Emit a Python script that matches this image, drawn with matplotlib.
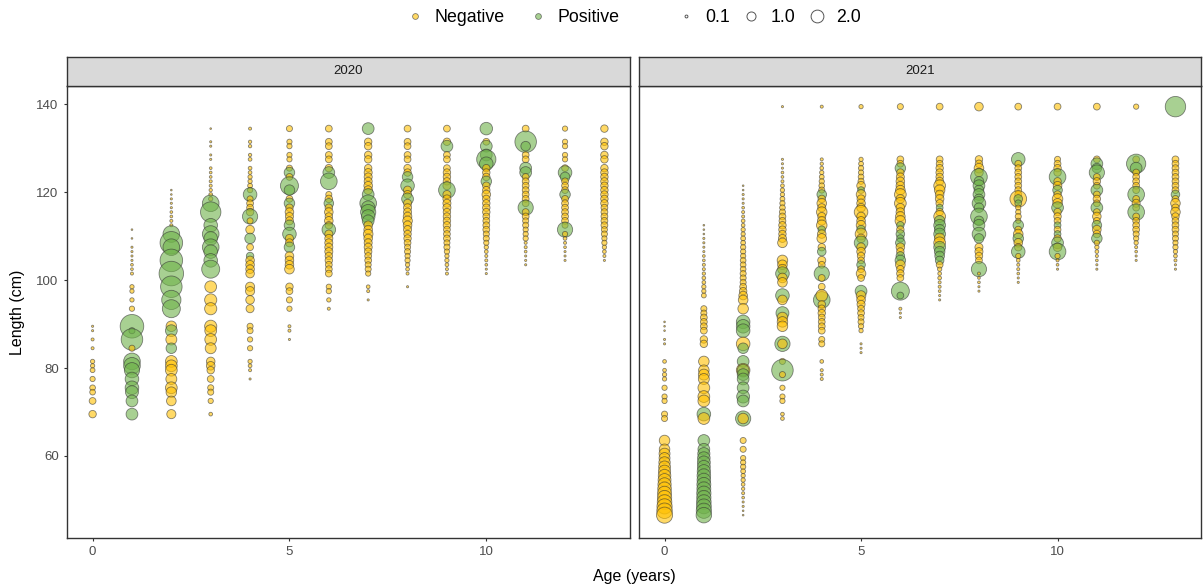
import matplotlib.pyplot as plt
from matplotlib.colors import to_rgba
from matplotlib.lines import Line2D

plt.rcParams['font.family'] = ['Liberation Sans', 'DejaVu Sans']

years = ['2020', '2021']
status_labels = ['Negative', 'Positive']
status_colors = ['#FFC000', '#6FB24A']
size_breaks = [0.1, 1.0, 2.0]
x_ticks = [0, 5, 10]
y_ticks = [60, 80, 100, 120, 140]

# each age (0..13) holds (length cm, relative size, positive 0/1)
fish_2020 = [
    # age 0
    [(89.5, .05, 0), (88.5, .05, 0), (86.5, .1, 0), (84.5, .1, 0), (81.5, .2, 0), (80.5, .2, 0),
     (79.5, .25, 0), (77.5, .3, 0), (75.5, .35, 0), (74.5, .35, 0), (72.5, .5, 0), (69.5, .6, 0)],
    # age 1
    [(111.5, .03, 0), (109.5, .03, 0), (107.5, .05, 0), (106.5, .05, 0), (105.5, .05, 0), (104.5, .05, 0),
     (103.5, .08, 0), (102.5, .08, 0), (101.5, .1, 0), (98.5, .2, 0), (97.5, .2, 0), (95.5, .2, 0),
     (93.5, .3, 0), (89.5, 6, 1), (88.5, .4, 1), (86.5, 5, 1), (84.5, .4, 0), (81.5, 3, 1), (80.5, 3, 1),
     (79.5, 2.5, 1), (77.5, 2, 1), (75.5, 2, 1), (74.5, 1.8, 1), (72.5, 1.5, 1), (69.5, 1.5, 1)],
    # age 2
    [(120.5, .03, 0), (119.5, .03, 0), (118.5, .05, 0), (117.5, .05, 0), (116.5, .05, 0), (115.5, .08, 0),
     (114.5, .08, 0), (113.5, .1, 0), (112.5, .1, 0), (110.5, 3, 1), (108.5, 5.5, 1), (107.5, 3, 1),
     (104.5, 5.5, 1), (101.5, 6.5, 1), (98.5, 5, 1), (95.5, 4, 1), (93.5, 3.5, 1), (89.5, 1.2, 0),
     (88.5, 1.5, 1), (86.5, 1.3, 0), (84.5, 1.2, 1), (81.5, 1.5, 0), (80.5, 1.5, 0), (79.5, 1.5, 0),
     (77.5, 1.3, 0), (75.5, 1.5, 0), (74.5, 1.2, 0), (72.5, 1.0, 0), (69.5, .9, 0)],
    # age 3
    [(134.5, .03, 0), (131.5, .05, 0), (130.5, .05, 0), (128.5, .05, 0), (127.5, .05, 0), (125.5, .08, 0),
     (124.5, .08, 0), (123.5, .08, 0), (122.5, .1, 0), (121.5, .1, 0), (120.5, .12, 0), (119.5, .15, 0),
     (118.5, .2, 0), (117.5, 3, 1), (115.5, 4.5, 1), (112.5, 2, 1), (110.5, 3, 1), (109.5, 2, 1),
     (107.5, 3, 1), (106.5, 2, 1), (104.5, 2, 1), (102.5, 3.5, 1), (98.5, 1.5, 0), (95.5, 1.6, 0),
     (93.5, 1.6, 0), (89.5, 1.6, 0), (88.5, 1.5, 0), (86.5, 1.5, 0), (84.5, 1.3, 0), (81.5, .8, 0),
     (80.5, .8, 0), (79.5, .6, 0), (77.5, .5, 0), (75.5, .4, 0), (74.5, .4, 0), (72.5, .3, 0),
     (69.5, .15, 0)],
    # age 4
    [(134.5, .1, 0), (131.5, .12, 0), (130.5, .12, 0), (128.5, .12, 0), (127.5, .15, 0), (125.5, .15, 0),
     (124.5, .15, 0), (123.5, .2, 0), (122.5, .2, 0), (121.5, .25, 0), (120.5, .3, 0), (119.5, 2, 1),
     (118.5, .4, 0), (117.5, .5, 0), (116.5, .5, 0), (115.5, .6, 0), (114.5, 2.5, 1), (113.5, .4, 0),
     (111.5, .8, 0), (109.5, 1.2, 1), (107.5, .5, 0), (105.5, .6, 1), (104.5, .8, 0), (103.5, .8, 0),
     (102.5, .8, 0), (101.5, .8, 0), (98.5, .9, 0), (97.5, .9, 0), (95.5, .8, 0), (93.5, .7, 0),
     (89.5, .4, 0), (88.5, .4, 0), (86.5, .3, 0), (84.5, .3, 0), (81.5, .2, 0), (80.5, .15, 0),
     (79.5, .1, 0), (77.5, .05, 0)],
    # age 5
    [(134.5, .4, 0), (131.5, .3, 0), (130.5, .3, 0), (128.5, .3, 0), (127.5, .3, 0), (125.5, .4, 0),
     (124.5, 1.2, 1), (123.5, .5, 0), (121.5, 3.5, 1), (120.5, 1.2, 1), (118.5, .5, 0), (117.5, 1.2, 1),
     (116.5, .6, 0), (115.5, .8, 0), (114.5, .7, 0), (113.5, .7, 0), (112.5, 1.2, 1), (110.5, 2, 1),
     (109.5, .7, 0), (108.5, .7, 0), (107.5, 1.2, 1), (105.5, .8, 0), (104.5, .8, 0), (103.5, .8, 0),
     (102.5, 1, 0), (98.5, .6, 0), (97.5, .5, 0), (95.5, .4, 0), (93.5, .3, 0), (89.5, .1, 0),
     (88.5, .1, 0), (86.5, .05, 0)],
    # age 6
    [(134.5, .5, 0), (131.5, .5, 0), (130.5, .5, 0), (128.5, .5, 0), (127.5, .5, 0), (125.5, .6, 0),
     (124.5, 1.5, 1), (122.5, 3, 1), (119.5, .4, 0), (118.5, .6, 0), (117.5, 1, 1), (116.5, .6, 0),
     (115.5, .8, 0), (114.5, .6, 0), (113.5, .8, 0), (112.5, .6, 0), (111.5, 2, 1), (110.5, .7, 0),
     (109.5, .7, 0), (108.5, .7, 0), (107.5, .7, 0), (106.5, .7, 0), (105.5, .6, 0), (104.5, .6, 0),
     (103.5, .5, 0), (102.5, .5, 0), (101.5, .5, 0), (98.5, .3, 0), (97.5, .3, 0), (95.5, .2, 0),
     (93.5, .1, 0)],
    # age 7
    [(134.5, 1.5, 1), (131.5, .6, 0), (130.5, .6, 0), (128.5, .6, 0), (127.5, .6, 0), (125.5, .6, 0),
     (124.5, .7, 0), (123.5, .7, 0), (122.5, .7, 0), (121.5, .8, 0), (120.5, .8, 0), (119.5, 1.5, 1),
     (117.5, 3, 1), (116.5, 2, 1), (115.5, 2.5, 1), (114.5, 2, 1), (113.5, 1.5, 1), (112.5, .8, 0),
     (111.5, .8, 0), (110.5, 1, 0), (109.5, .8, 0), (108.5, .7, 0), (107.5, .7, 0), (106.5, .6, 0),
     (105.5, .5, 0), (104.5, .5, 0), (103.5, .4, 0), (102.5, .4, 0), (101.5, .3, 0), (98.5, .15, 0),
     (97.5, .1, 0), (95.5, .05, 0)],
    # age 8
    [(134.5, .5, 0), (131.5, .5, 0), (130.5, .5, 0), (128.5, .5, 0), (127.5, .5, 0), (125.5, .6, 0),
     (124.5, .6, 0), (123.5, 1.2, 1), (121.5, 2, 1), (120.5, .7, 0), (119.5, .7, 0), (118.5, 1.5, 1),
     (117.5, .7, 0), (116.5, .7, 0), (115.5, .7, 0), (114.5, .8, 0), (113.5, 1, 0), (112.5, .8, 0),
     (111.5, .7, 0), (110.5, .6, 0), (109.5, .6, 0), (108.5, .5, 0), (107.5, .4, 0), (106.5, .4, 0),
     (105.5, .3, 0), (104.5, .3, 0), (103.5, .2, 0), (102.5, .15, 0), (101.5, .1, 0), (98.5, .05, 0)],
    # age 9
    [(134.5, .5, 0), (131.5, .6, 0), (130.5, 1.5, 1), (128.5, .5, 0), (127.5, .5, 0), (125.5, .5, 0),
     (124.5, .6, 0), (123.5, .6, 0), (122.5, .6, 0), (121.5, .7, 0), (120.5, 3, 1), (119.5, .7, 0),
     (118.5, .7, 0), (117.5, .7, 0), (116.5, .7, 0), (115.5, .6, 0), (114.5, .6, 0), (113.5, .6, 0),
     (112.5, .6, 0), (111.5, .5, 0), (110.5, .5, 0), (109.5, .5, 0), (108.5, .4, 0), (107.5, .4, 0),
     (106.5, .3, 0), (105.5, .2, 0), (104.5, .2, 0), (103.5, .15, 0), (102.5, .1, 0), (101.5, .1, 0)],
    # age 10
    [(134.5, 1.7, 1), (131.5, .5, 0), (130.5, 1.5, 1), (128.5, 1.5, 1), (127.5, 4, 1), (126.5, 2, 1),
     (125.5, .6, 0), (124.5, .6, 0), (123.5, .6, 0), (122.5, 1.2, 1), (121.5, .6, 0), (120.5, .6, 0),
     (119.5, .8, 0), (118.5, .6, 0), (117.5, .6, 0), (116.5, .6, 0), (115.5, .6, 0), (114.5, .5, 0),
     (113.5, .5, 0), (112.5, .5, 0), (111.5, .5, 0), (110.5, .4, 0), (109.5, .4, 0), (108.5, .3, 0),
     (107.5, .2, 0), (106.5, .15, 0), (105.5, .1, 0), (104.5, .1, 0), (103.5, .08, 0), (102.5, .05, 0),
     (101.5, .05, 0)],
    # age 11
    [(134.5, .5, 0), (131.5, 5, 1), (130.5, 1, 1), (128.5, .5, 0), (127.5, .5, 0), (125.5, 1.5, 1),
     (124.5, 1.5, 1), (123.5, .5, 0), (122.5, .5, 0), (121.5, .5, 0), (120.5, .5, 0), (119.5, .5, 0),
     (118.5, .5, 0), (117.5, .5, 0), (116.5, 2.5, 1), (115.5, .5, 0), (114.5, .5, 0), (113.5, .4, 0),
     (112.5, .4, 0), (111.5, .3, 0), (110.5, .3, 0), (109.5, .3, 0), (108.5, .1, 0), (107.5, .1, 0),
     (106.5, .08, 0), (105.5, .05, 0), (104.5, .05, 0), (103.5, .05, 0)],
    # age 12
    [(134.5, .3, 0), (131.5, .3, 0), (130.5, .3, 0), (128.5, .3, 0), (127.5, .3, 0), (125.5, .5, 0),
     (124.5, 2, 1), (123.5, 1, 1), (122.5, .5, 0), (121.5, .5, 0), (120.5, .5, 0), (119.5, 1.2, 1),
     (118.5, .5, 0), (117.5, .5, 0), (116.5, .5, 0), (115.5, .5, 0), (114.5, .5, 0), (113.5, .5, 0),
     (112.5, .4, 0), (111.5, 2.5, 1), (110.5, .3, 0), (109.5, .15, 0), (108.5, .1, 0), (107.5, .08, 0),
     (106.5, .05, 0), (105.5, .05, 0), (104.5, .05, 0)],
    # age 13
    [(134.5, .6, 0), (131.5, .6, 0), (130.5, .6, 0), (128.5, .6, 0), (127.5, .6, 0), (125.5, .6, 0),
     (124.5, .6, 0), (123.5, .6, 0), (122.5, .6, 0), (121.5, .6, 0), (120.5, .6, 0), (119.5, .6, 0),
     (118.5, .6, 0), (117.5, .6, 0), (116.5, .5, 0), (115.5, .5, 0), (114.5, .5, 0), (113.5, .5, 0),
     (112.5, .5, 0), (111.5, .4, 0), (110.5, .4, 0), (109.5, .3, 0), (108.5, .3, 0), (107.5, .2, 0),
     (106.5, .15, 0), (105.5, .1, 0), (104.5, .05, 0)],
]

fish_2021 = [
    # age 0
    [(90.5, .03, 0), (89.5, .03, 0), (88.5, .03, 0), (86.5, .05, 0), (85.5, .05, 0), (81.5, .15, 0),
     (79.5, .15, 0), (78.5, .2, 0), (77.5, .2, 0), (75.5, .3, 0), (73.5, .3, 0), (72.5, .3, 0),
     (69.5, .4, 0), (68.5, .4, 0), (63.5, 1.2, 0), (61.5, 1.2, 0), (60.5, 1.3, 0), (59.5, 1.3, 0),
     (58.5, 1.4, 0), (57.5, 1.5, 0), (56.5, 1.6, 0), (55.5, 1.7, 0), (54.5, 1.8, 0), (53.5, 1.9, 0),
     (52.5, 2.0, 0), (51.5, 2.1, 0), (50.5, 2.2, 0), (49.5, 2.3, 0), (48.5, 2.5, 0), (47.5, 2.6, 0),
     (46.5, 2.8, 0)],
    # age 1
    [(112.5, .03, 0), (111.5, .03, 0), (110.5, .03, 0), (109.5, .05, 0), (108.5, .05, 0), (107.5, .05, 0),
     (106.5, .05, 0), (105.5, .08, 0), (104.5, .08, 0), (103.5, .1, 0), (102.5, .1, 0), (101.5, .12, 0),
     (100.5, .15, 0), (99.5, .15, 0), (98.5, .2, 0), (97.5, .2, 0), (96.5, .25, 0), (93.5, .4, 0),
     (92.5, .4, 0), (91.5, .5, 0), (90.5, .5, 0), (89.5, .5, 0), (88.5, .5, 0), (86.5, .6, 0),
     (85.5, .6, 0), (81.5, 1.2, 0), (79.5, 1.2, 0), (78.5, 1.3, 0), (77.5, 1.3, 0), (75.5, 1.5, 0),
     (73.5, 1.5, 0), (72.5, 1.5, 0), (69.5, 2, 1), (68.5, 1.5, 0), (63.5, 1.5, 1), (61.5, 1.5, 1),
     (60.5, 1.6, 1), (59.5, 1.7, 1), (58.5, 1.8, 1), (57.5, 1.8, 1), (56.5, 1.9, 1), (55.5, 2.0, 1),
     (54.5, 2.0, 1), (53.5, 2.1, 1), (52.5, 2.1, 1), (51.5, 2.2, 1), (50.5, 2.2, 1), (49.5, 2.3, 1),
     (48.5, 2.4, 1), (47.5, 2.5, 1), (46.5, 2.6, 1)],
    # age 2
    [(121.5, .03, 0), (120.5, .03, 0), (119.5, .05, 0), (118.5, .05, 0), (117.5, .05, 0), (116.5, .08, 0),
     (115.5, .1, 0), (114.5, .1, 0), (113.5, .15, 0), (112.5, .15, 0), (111.5, .2, 0), (110.5, .2, 0),
     (109.5, .25, 0), (108.5, .25, 0), (107.5, .3, 0), (106.5, .3, 0), (105.5, .3, 0), (104.5, .35, 0),
     (103.5, .35, 0), (102.5, .35, 0), (101.5, .4, 0), (100.5, .4, 0), (99.5, .4, 0), (98.5, .5, 0),
     (97.5, .6, 0), (96.5, .8, 0), (95.5, 1.0, 0), (93.5, 1.2, 0), (90.5, 2, 1), (89.5, 2, 1),
     (88.5, 2, 1), (85.5, 2, 0), (84.5, 1.2, 1), (81.5, 1.5, 1), (79.5, 2, 0), (79.5, 1.5, 1),
     (78.5, 1.5, 1), (77.5, 1.5, 1), (75.5, 1.5, 1), (73.5, 1.8, 1), (72.5, 1.5, 1), (68.5, 2.5, 1),
     (68.5, 1.2, 0), (63.5, .4, 0), (61.5, .4, 0), (59.5, .3, 0), (58.5, .3, 0), (57.5, .3, 0),
     (56.5, .25, 0), (55.5, .2, 0), (54.5, .2, 0), (53.5, .15, 0), (52.5, .12, 0), (51.5, .1, 0),
     (50.5, .08, 0), (49.5, .05, 0), (48.5, .05, 0), (47.5, .03, 0), (46.5, .03, 0)],
    # age 3
    [(139.5, .05, 0), (127.5, .05, 0), (126.5, .05, 0), (125.5, .05, 0), (124.5, .08, 0), (123.5, .08, 0),
     (122.5, .1, 0), (121.5, .15, 0), (120.5, .2, 0), (119.5, .2, 0), (118.5, .25, 0), (117.5, .3, 0),
     (116.5, .35, 0), (115.5, .4, 0), (114.5, .5, 0), (113.5, .5, 0), (112.5, .6, 0), (111.5, .6, 0),
     (110.5, .6, 0), (109.5, .7, 0), (108.5, 1, 0), (104.5, 1.2, 0), (103.5, 1, 0), (102.5, 1, 0),
     (101.5, 2, 1), (100.5, 1, 0), (99.5, 1, 0), (96.5, 2, 1), (95.5, 1, 0), (92.5, 1.8, 1),
     (91.5, 1.2, 0), (90.5, 1.2, 0), (89.5, 1.2, 0), (85.5, 2.5, 1), (85.5, 1, 0), (81.5, .4, 0),
     (79.5, 5, 1), (78.5, .4, 0), (75.5, .3, 0), (73.5, .3, 0), (72.5, .3, 0), (69.5, .15, 0),
     (68.5, .15, 0)],
    # age 4
    [(139.5, .1, 0), (127.5, .1, 0), (126.5, .12, 0), (125.5, .15, 0), (124.5, .2, 0), (123.5, .25, 0),
     (122.5, .3, 0), (121.5, .35, 0), (120.5, .4, 0), (119.5, 1, 1), (118.5, .6, 0), (117.5, 1, 0),
     (116.5, .7, 0), (115.5, 1.2, 0), (114.5, .7, 0), (113.5, .8, 0), (112.5, 1.2, 0), (111.5, .6, 1),
     (110.5, .8, 0), (109.5, 1, 0), (107.5, .6, 0), (106.5, .8, 1), (104.5, .7, 0), (103.5, .5, 0),
     (101.5, 2.5, 1), (100.5, .5, 0), (98.5, .5, 0), (95.5, 3, 1), (96.5, 1.5, 0), (94.5, .6, 0),
     (93.5, .6, 0), (92.5, .6, 0), (91.5, .5, 0), (90.5, .5, 0), (89.5, .5, 0), (88.5, .5, 0),
     (86.5, .4, 0), (85.5, .4, 0), (81.5, .15, 0), (79.5, .1, 0), (78.5, .1, 0), (77.5, .1, 0)],
    # age 5
    [(139.5, .2, 0), (127.5, .2, 0), (126.5, .25, 0), (125.5, .3, 0), (124.5, .3, 0), (123.5, .35, 0),
     (122.5, .4, 0), (121.5, .8, 0), (120.5, .5, 1), (119.5, 1, 0), (118.5, .7, 0), (117.5, .8, 0),
     (116.5, .8, 0), (115.5, 2, 0), (114.5, .8, 0), (113.5, .8, 0), (112.5, 1, 0), (111.5, .8, 1),
     (110.5, 1.5, 0), (109.5, .8, 0), (108.5, 2, 1), (107.5, .8, 0), (106.5, .8, 0), (105.5, .6, 0),
     (104.5, .5, 0), (103.5, .8, 1), (102.5, .5, 0), (101.5, 1, 0), (100.5, .5, 0), (97.5, 1.5, 1),
     (96.5, 1, 0), (95.5, .8, 0), (94.5, .7, 0), (93.5, .5, 0), (92.5, .5, 0), (91.5, .4, 0),
     (90.5, .4, 0), (89.5, .3, 0), (88.5, .2, 0), (85.5, .05, 0), (84.5, .05, 0), (83.5, .05, 0)],
    # age 6
    [(139.5, .4, 0), (127.5, .5, 0), (126.5, .5, 0), (125.5, 1.2, 1), (124.5, .6, 0), (123.5, .7, 0),
     (122.5, .8, 0), (121.5, .8, 0), (120.5, 1, 0), (119.5, 1.5, 0), (118.5, .8, 0), (117.5, 1.5, 0),
     (116.5, .8, 0), (115.5, .8, 0), (114.5, 1, 0), (113.5, 1.2, 0), (112.5, .6, 1), (111.5, .6, 0),
     (110.5, .8, 1), (109.5, .6, 1), (108.5, 1, 1), (107.5, .8, 0), (106.5, .6, 0), (105.5, .8, 1),
     (104.5, 1.2, 1), (103.5, 1, 0), (102.5, .6, 0), (101.5, .6, 0), (100.5, .5, 0), (97.5, 3.5, 1),
     (96.5, .5, 1), (93.5, .1, 0), (92.5, .05, 0), (91.5, .05, 0)],
    # age 7
    [(139.5, .5, 0), (127.5, .5, 0), (126.5, .5, 0), (125.5, .6, 0), (124.5, .6, 0), (123.5, .6, 0),
     (122.5, .7, 0), (121.5, 1.5, 0), (120.5, 1.2, 0), (119.5, .8, 0), (118.5, .8, 0), (117.5, .6, 0),
     (116.5, .5, 1), (115.5, .6, 0), (114.5, 1.5, 0), (113.5, 1.2, 1), (112.5, 1.5, 1), (111.5, 1.2, 1),
     (110.5, 1.5, 1), (109.5, 1.2, 0), (108.5, 1.5, 0), (107.5, 1.5, 1), (106.5, 1.2, 1), (105.5, 1, 1),
     (104.5, .8, 1), (103.5, .5, 0), (102.5, .2, 0), (101.5, .15, 0), (100.5, .15, 0), (99.5, .1, 0),
     (98.5, .1, 0), (97.5, .08, 0), (96.5, .05, 0), (95.5, .05, 0)],
    # age 8
    [(139.5, .8, 0), (127.5, .6, 0), (126.5, .6, 0), (125.5, 1, 0), (124.5, .8, 0), (123.5, 3, 1),
     (122.5, 1, 1), (121.5, 1.5, 1), (120.5, 1, 1), (119.5, 1.5, 1), (118.5, 1, 1), (117.5, 2, 1),
     (116.5, 1, 1), (114.5, 3, 1), (113.5, 1, 1), (112.5, 1.5, 1), (110.5, 2, 1), (109.5, 1, 1),
     (107.5, .7, 0), (106.5, .7, 0), (105.5, .6, 0), (104.5, .5, 0), (102.5, 2.5, 1), (101.5, .1, 0),
     (100.5, .08, 0), (99.5, .08, 0), (98.5, .05, 0), (97.5, .05, 0)],
    # age 9
    [(139.5, .5, 0), (127.5, 2, 1), (126.5, .5, 0), (125.5, .5, 0), (124.5, .5, 0), (123.5, .5, 0),
     (122.5, .5, 0), (121.5, .5, 0), (120.5, .5, 0), (119.5, .5, 0), (118.5, 3, 0), (118.5, .8, 1),
     (117.5, .5, 1), (116.5, .3, 0), (115.5, .3, 0), (114.5, .4, 0), (113.5, .3, 0), (112.5, 1.2, 1),
     (111.5, .5, 0), (110.5, 1, 0), (109.5, 1.2, 1), (108.5, .8, 0), (107.5, .6, 0), (106.5, 2, 1),
     (105.5, .3, 0), (104.5, .15, 0), (103.5, .1, 0), (102.5, .1, 0), (101.5, .08, 0), (100.5, .05, 0),
     (99.5, .05, 0)],
    # age 10
    [(139.5, .5, 0), (127.5, .4, 0), (126.5, .5, 0), (125.5, .6, 0), (124.5, .6, 0), (123.5, 3, 1),
     (122.5, .6, 0), (121.5, .8, 0), (120.5, 1, 1), (119.5, .6, 0), (118.5, 1.2, 0), (117.5, 1, 0),
     (116.5, 1.5, 1), (115.5, .6, 0), (114.5, .6, 0), (113.5, .5, 0), (112.5, .5, 1), (111.5, .5, 0),
     (110.5, .5, 1), (109.5, .6, 0), (108.5, 1.5, 1), (107.5, .8, 0), (106.5, 3, 1), (105.5, .3, 0),
     (104.5, .1, 0), (103.5, .08, 0), (102.5, .05, 0)],
    # age 11
    [(139.5, .5, 0), (127.5, .5, 0), (126.5, 1.5, 1), (125.5, 1, 1), (124.5, 2.5, 1), (123.5, .5, 0),
     (122.5, .6, 0), (121.5, .5, 0), (120.5, 1.5, 1), (119.5, .5, 0), (118.5, .6, 0), (117.5, .5, 0),
     (116.5, 1.5, 1), (115.5, .5, 0), (114.5, .8, 0), (113.5, .5, 0), (112.5, 1, 1), (111.5, .8, 0),
     (110.5, .6, 0), (109.5, 1.2, 1), (108.5, .3, 0), (107.5, .2, 0), (106.5, .15, 0), (105.5, .1, 0),
     (104.5, .08, 0), (103.5, .05, 0), (102.5, .05, 0)],
    # age 12
    [(139.5, .3, 0), (127.5, .5, 0), (126.5, 4, 1), (125.5, 1.5, 1), (124.5, .5, 0), (123.5, .5, 0),
     (122.5, .5, 0), (121.5, .5, 0), (120.5, .5, 0), (119.5, 3, 1), (118.5, .5, 0), (117.5, .7, 0),
     (116.5, .5, 0), (115.5, 3, 1), (114.5, .5, 0), (113.5, .5, 0), (112.5, .5, 0), (111.5, .5, 0),
     (110.5, .4, 0), (109.5, .3, 0), (108.5, .2, 0), (107.5, .1, 0), (106.5, .08, 0), (105.5, .05, 0),
     (104.5, .05, 0)],
    # age 13
    [(139.5, 4.5, 1), (127.5, .5, 0), (126.5, .5, 0), (125.5, .5, 0), (124.5, .5, 0), (123.5, .5, 0),
     (122.5, .5, 0), (121.5, .5, 0), (120.5, .5, 0), (119.5, .8, 1), (118.5, .5, 0), (117.5, 1, 0),
     (116.5, .6, 0), (115.5, 1, 0), (114.5, .6, 0), (113.5, .5, 0), (112.5, .5, 0), (111.5, .5, 0),
     (110.5, .4, 0), (109.5, .4, 0), (108.5, .3, 0), (107.5, .3, 0), (106.5, .2, 0), (105.5, .15, 0),
     (104.5, .1, 0), (103.5, .05, 0), (102.5, .05, 0)],
]

SIZE_K = 48          # marker area (pt^2) per size unit
ALPHA = 0.6
EDGE = (0.2, 0.2, 0.2, 0.6)
DARK = '#333333'
W, H = 1203, 587

fig = plt.figure(figsize=(W / 100, H / 100), dpi=100)


def px_axes(x0, y0, x1, y1):
    # axes from pixel box (top-left origin)
    return fig.add_axes([x0 / W, 1 - y1 / H, (x1 - x0) / W, (y1 - y0) / H])


panels = [(67, 630), (639, 1201)]
for i, (year, fish) in enumerate(zip(years, [fish_2020, fish_2021])):
    x0, x1 = panels[i]
    ax = px_axes(x0, 86, x1, 538)
    xs, ys, ss, cs = [], [], [], []
    for age, col in enumerate(fish):
        for length, size, pos in col:
            xs.append(age)
            ys.append(length)
            ss.append(size * SIZE_K)
            cs.append(to_rgba(status_colors[pos], ALPHA))
    ax.scatter(xs, ys, s=ss, c=cs, edgecolors=[EDGE], linewidths=0.6, zorder=3)
    ax.set_xlim(-0.65, 13.65)
    ax.set_ylim(41.3, 144.2)
    ax.set_xticks(x_ticks)
    ax.set_yticks(y_ticks)
    for sp in ax.spines.values():
        sp.set_color(DARK)
        sp.set_linewidth(1.0)
    ax.tick_params(colors=DARK, labelcolor='#4D4D4D', labelsize=9.5, length=2.5, width=0.8)
    if i == 1:
        ax.tick_params(left=False, labelleft=False)

    strip = px_axes(x0, 57, x1, 86)
    strip.set_facecolor('#D9D9D9')
    strip.set_xticks([])
    strip.set_yticks([])
    for sp in strip.spines.values():
        sp.set_color(DARK)
        sp.set_linewidth(1.0)
    strip.text(0.5, 0.5, year, ha='center', va='center', fontsize=9.5, color='#1A1A1A',
               transform=strip.transAxes)

fig.text(18 / W, 1 - 312 / H, 'Length (cm)', rotation=90, ha='center', va='center', fontsize=11.5)
fig.text(634 / W, 1 - 577 / H, 'Age (years)', ha='center', va='center', fontsize=11.5)

# legends
col_handles = [Line2D([], [], ls='', marker='o', markersize=4.2,
                      markerfacecolor=to_rgba(c, ALPHA), markeredgecolor=EDGE, markeredgewidth=0.6)
               for c in status_colors]
fig.legend(col_handles, status_labels, loc='center', bbox_to_anchor=(512 / W, 1 - 18 / H),
           ncol=2, frameon=False, fontsize=12.8, handletextpad=0.5, columnspacing=1.3,
           handlelength=1.2)

size_handles = [Line2D([], [], ls='', marker='o', markersize=6.5 * b ** 0.5,
                       markerfacecolor='none', markeredgecolor='#555555', markeredgewidth=0.7)
                for b in size_breaks]
fig.legend(size_handles, [f'{b:.1f}' for b in size_breaks], loc='center',
           bbox_to_anchor=(768 / W, 1 - 18 / H), ncol=3, frameon=False, fontsize=12.8,
           handletextpad=0.5, columnspacing=0.6, handlelength=1.2)

fig.savefig('out.png', dpi=100)
